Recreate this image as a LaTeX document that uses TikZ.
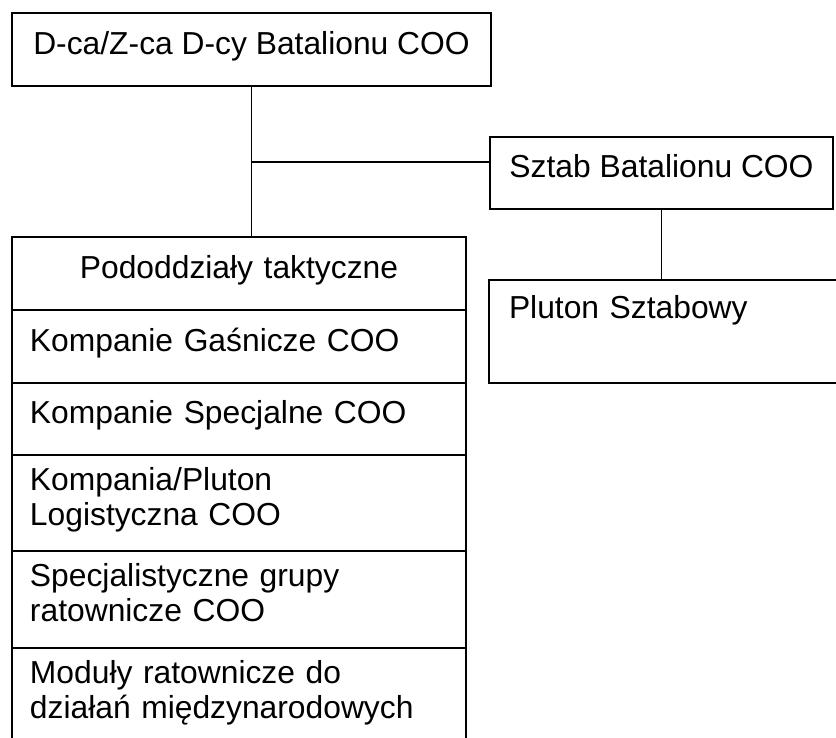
\documentclass[tikz,border=0pt]{standalone}
\usepackage{fontspec}
\setmainfont{Liberation Sans}
\usetikzlibrary{positioning}

\begin{document}
\begin{tikzpicture}[x=1pt, y=-1pt, line width=1.8pt,
    font=\fontsize{31.8}{35}\selectfont,
    box/.style={draw, inner ysep=0pt, outer sep=0pt, execute at end node={\rule[-14pt]{0pt}{0pt}}},
    row/.style={box, text width=418pt, inner xsep=18pt, align=left}]
    \useasboundingbox (0,0) rectangle (836,738);
    \node[box, minimum width=479pt, minimum height=73pt] (top) at (251.5,49.5) {D-ca/Z-ca D-cy Batalionu COO};
    \node[box, minimum width=343pt, minimum height=72pt] (sztab) at (661.5,173) {Sztab Batalionu COO};
    \node[box, text width=316pt, inner xsep=20pt, align=left, minimum height=103pt] (pluton) at (667,331.5) {Pluton Sztabowy\\ \mbox{}};
    % kolumna pododdzialow
    \node[row, align=center, anchor=north, minimum height=73pt] (pod) at (239,237) {Pododdziały taktyczne};
    \node[row, minimum height=73pt, below=0pt of pod] (gasn) {Kompanie Gaśnicze COO};
    \node[row, minimum height=72pt, below=0pt of gasn] (spec) {Kompanie Specjalne COO};
    \node[row, minimum height=96pt, below=0pt of spec] (logi) {Kompania/Pluton\\Logistyczna COO};
    \node[row, minimum height=97pt, below=0pt of logi] (grupy) {Specjalistyczne grupy\\ratownicze COO};
    \node[row, minimum height=96pt, below=0pt of grupy] (moduly) {Moduły ratownicze do\\działań międzynarodowych};
    \path (top.south) ++(0,76) coordinate (junction);
    \draw (top.south) -- (top.south |- pod.north);
    \draw (junction) -- (junction -| sztab.west);
    \draw (sztab.south) -- (sztab.south |- pluton.north);
\end{tikzpicture}
\end{document}
